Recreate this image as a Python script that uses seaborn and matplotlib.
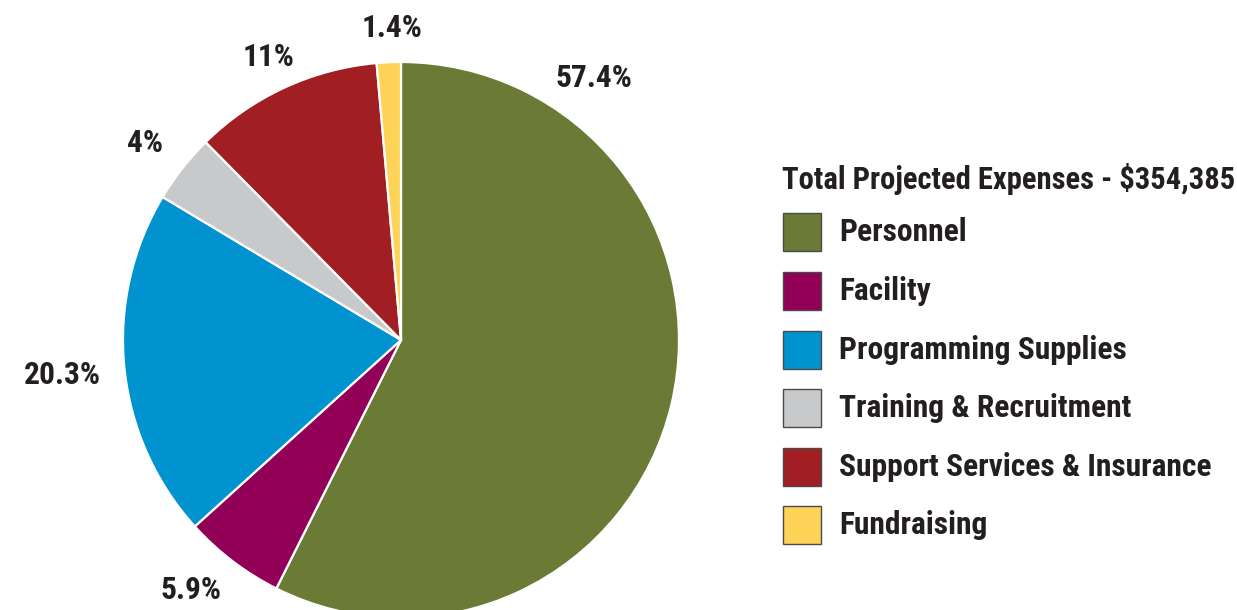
import matplotlib
matplotlib.use("Agg")
import matplotlib.pyplot as plt
import matplotlib.patches as mpatches
from matplotlib import font_manager as fm
import seaborn as sns

# Expense breakdown (clockwise from 12 o'clock)
categories = ["Personnel", "Facility", "Programming Supplies",
              "Training & Recruitment", "Support Services & Insurance", "Fundraising"]
shares = [57.4, 5.9, 20.3, 4.0, 11.0, 1.4]
pct_labels = ["57.4%", "5.9%", "20.3%", "4%", "11%", "1.4%"]
colors = ["#6b7b35", "#920057", "#0093d0", "#c8c9cb", "#a11e22", "#fdd457"]
legend_title = "Total Projected Expenses - $354,385"

sns.set_theme(style="white")
text_color = "#231f20"

W, H = 1237, 610
CX, CY, R = 401, 340, 278   # pie centre / radius in pixels


def px(x, y):
    # pixel (from top-left) -> data coords
    return (x - CX) / R, (CY - y) / R


# narrow bold font if one exists, otherwise condensed DejaVu
base_fp = fm.FontProperties(family=["Liberation Sans Narrow", "Roboto Condensed", "DejaVu Sans"],
                            weight="bold", stretch="condensed", size=20)

fig = plt.figure(figsize=(W / 100, H / 100), dpi=100)
ax = fig.add_axes([0, 0, 1, 1])
renderer = fig.canvas.get_renderer()


def fit(text, target_w):
    fp = base_fp.copy()
    t = ax.text(0, 0, text, fontproperties=fp)
    w = t.get_window_extent(renderer).width
    t.remove()
    fp.set_size(20 * target_w / w)
    return fp


title_fp = fit(legend_title, 452)
item_fp = title_fp.copy()
item_fp.set_size(title_fp.get_size() * 1.03)
pct_fp = fit("57.4%", 77)

wedges, _ = ax.pie(shares, colors=colors, startangle=90, counterclock=False,
                   radius=1, center=(0, 0),
                   wedgeprops=dict(edgecolor="white", linewidth=1.6))

ax.set_xlim(-CX / R, (W - CX) / R)
ax.set_ylim(-(H - CY) / R, CY / R)
ax.set_aspect("auto")
ax.axis("off")

# percentage labels (pixel positions of their centres)
label_px = [(594, 78), (191, 590), (62, 375), (145, 143), (269, 57), (392, 28)]
for txt, (lx, ly) in zip(pct_labels, label_px):
    x, y = px(lx, ly)
    ax.text(x, y, txt, ha="center", va="center", fontproperties=pct_fp, color=text_color)

# legend block
tx, ty = px(782, 179)
ax.text(tx, ty, legend_title, ha="left", va="center", fontproperties=title_fp, color=text_color)
row_y = [232, 291, 350, 408, 467, 525]
sq = 38 / R
for name, c, ry in zip(categories, colors, row_y):
    x0, y0 = px(783, ry)
    ax.add_patch(mpatches.Rectangle((x0, y0 - sq / 2), sq, sq, facecolor=c,
                                    edgecolor="#4a4a4a", linewidth=1.0, clip_on=False))
    lx, ly = px(839, ry)
    ax.text(lx, ly, name, ha="left", va="center", fontproperties=item_fp, color=text_color)

fig.savefig("out.png", dpi=100, facecolor="white")
